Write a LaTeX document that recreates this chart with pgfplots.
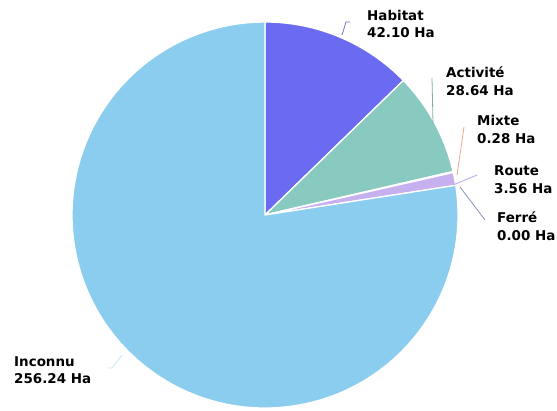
\documentclass[border=0pt]{standalone}
\usepackage{pgfplots}
\usepackage{pgfplotstable}
\pgfplotsset{compat=1.18}
\usepackage{fontspec}
\setmainfont{DejaVu Sans}
\definecolor{pc0}{HTML}{6B6BF2}
\definecolor{pc1}{HTML}{88C9C0}
\definecolor{pc2}{HTML}{F0A58A}
\definecolor{pc3}{HTML}{C6B0F0}
\definecolor{pc4}{HTML}{8A93C2}
\definecolor{pc5}{HTML}{8ACDEF}
\pgfplotstableread{
label value
Habitat 42.10
Activite 28.64
Mixte 0.28
Route 3.56
Ferre 0.00
Inconnu 256.24
}\pietable
\begin{document}
\begin{tikzpicture}
\begin{axis}[x=1bp,y=1bp,xmin=0,xmax=557,ymin=0,ymax=410,hide axis,clip=false]
\pgfplotsextra{
  \xdef\total{0}
  \foreach \i in {0,...,5}{
    \pgfplotstablegetelem{\i}{value}\of\pietable
    \pgfmathsetmacro\t{\total+\pgfplotsretval}
    \xdef\total{\t}
  }
  \xdef\ang{90}
  \foreach \i in {0,...,5}{
    \pgfplotstablegetelem{\i}{value}\of\pietable
    \pgfmathsetmacro\frac{\pgfplotsretval/\total}
    \pgfmathsetmacro\sweep{360*\frac}
    \pgfmathsetmacro\endang{\ang-\sweep}
    \ifdim \sweep pt > 0.001pt
      \fill[fill=pc\i, draw=white, line width=1.3bp, line join=round]
        (265,195) -- ++(\ang:193bp) arc[start angle=\ang, end angle=\endang, radius=193bp] -- cycle;
    \fi
    \xdef\ang{\endang}
  }
  % leader lines (annotations)
  \draw[pc0!70!gray, line width=0.8bp] (342,375) -- (346,388) -- (350,388);
  \draw[pc1!60!gray, line width=0.8bp] (433,287) -- (432,332);
  \draw[pc2, line width=0.8bp] (457,235) -- (464,283);
  \draw[pc3, line width=1bp] (453,225) -- (477,235);
  \draw[pc4, line width=0.8bp] (460,223) -- (485,190);
  \draw[pc5!50!white, line width=0.8bp] (122,55) -- (112,42) -- (107,42);
  % labels
  \begin{scope}[every node/.style={anchor=base west, inner sep=0pt, font=\fontsize{13.5}{16}\selectfont\bfseries}]
    \node at (367,390) {Habitat};
    \node at (367,373) {42.10 Ha};
    \node at (446,333) {Activité};
    \node at (446,315) {28.64 Ha};
    \node at (477,285) {Mixte};
    \node at (477,267) {0.28 Ha};
    \node at (494,235) {Route};
    \node at (494,217) {3.56 Ha};
    \node at (497,188) {Ferré};
    \node at (497,170) {0.00 Ha};
    \node at (14,44) {Inconnu};
    \node at (14,27) {256.24 Ha};
  \end{scope}
}
\end{axis}
\pgfresetboundingbox
\path[use as bounding box] (current axis.south west) rectangle (current axis.north east);
\end{tikzpicture}
\end{document}
